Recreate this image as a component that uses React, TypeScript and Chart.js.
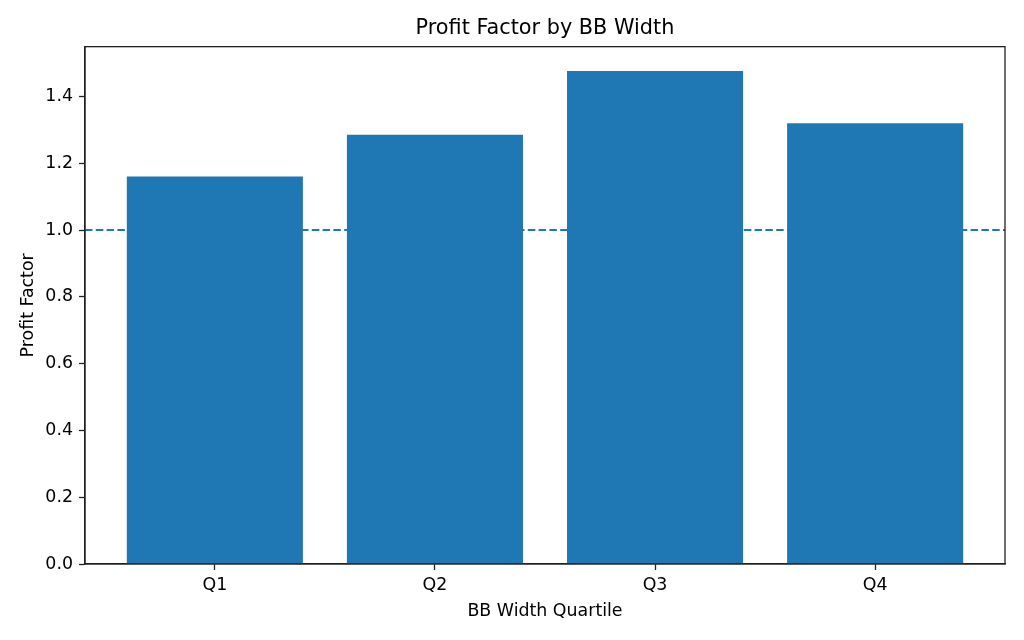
import React, { useEffect, useRef } from "react";
import { Chart, registerables } from "chart.js";

Chart.register(...registerables);

const categories = ["Q1", "Q2", "Q3", "Q4"];
const profitFactor = [1.16, 1.285, 1.476, 1.32];
const breakEven = 1.0;
const yTicks = [0, 0.2, 0.4, 0.6, 0.8, 1.0, 1.2, 1.4];

const BLUE = "#1f77b4";
const FONT = "'DejaVu Sans', sans-serif";

export default function App() {
  const ref = useRef<HTMLCanvasElement | null>(null);

  useEffect(() => {
    document.body.style.margin = "0";
    const canvas = ref.current;
    if (!canvas) return;

    const refLine = {
      id: "refLine",
      beforeDatasetsDraw(chart: any) {
        const { ctx, chartArea, scales } = chart;
        const y = scales.y.getPixelForValue(breakEven);
        ctx.save();
        ctx.strokeStyle = BLUE;
        ctx.lineWidth = 2;
        ctx.setLineDash([7.5, 3.3]);
        ctx.beginPath();
        ctx.moveTo(chartArea.left, y);
        ctx.lineTo(chartArea.right, y);
        ctx.stroke();
        ctx.restore();
      },
    };

    const frame = {
      id: "frame",
      afterDraw(chart: any) {
        const { ctx, chartArea } = chart;
        ctx.save();
        ctx.strokeStyle = "#222";
        ctx.lineWidth = 1.3;
        ctx.strokeRect(
          chartArea.left,
          chartArea.top,
          chartArea.right - chartArea.left,
          chartArea.bottom - chartArea.top
        );
        ctx.restore();
      },
    };

    const chart = new Chart(canvas, {
      type: "bar",
      data: {
        datasets: [
          {
            data: profitFactor.map((v, i) => ({ x: i, y: v })),
            backgroundColor: BLUE,
            borderWidth: 0,
            categoryPercentage: 1,
            barPercentage: 0.8,
          },
        ],
      },
      options: {
        animation: false,
        responsive: false,
        maintainAspectRatio: false,
        layout: { padding: { left: 17.6, right: 19, top: 0, bottom: 18 } },
        plugins: {
          legend: { display: false },
          tooltip: { enabled: false },
          title: {
            display: true,
            fullSize: false,
            text: "Profit Factor by BB Width",
            color: "#000",
            font: { family: FONT, size: 20.8, weight: "normal" },
            padding: { top: 16.5, bottom: 5.2 },
          },
        },
        scales: {
          x: {
            type: "linear",
            min: -0.59,
            max: 3.59,
            offset: false,
            afterBuildTicks(scale: any) {
              scale.ticks = categories.map((_, i) => ({ value: i }));
            },
            afterFit(scale: any) {
              scale.height = 58;
            },
            ticks: {
              color: "#000",
              font: { family: FONT, size: 17.4 },
              padding: 5,
              callback: (v: any) => categories[Number(v)] ?? "",
              maxRotation: 0,
            },
            grid: {
              offset: false,
              drawOnChartArea: false,
              drawTicks: true,
              tickLength: 6,
              tickWidth: 1.3,
              color: "#222",
            },
            border: { display: true, color: "#222", width: 1.3 },
            title: {
              display: true,
              text: "BB Width Quartile",
              color: "#000",
              font: { family: FONT, size: 17.4 },
              padding: { top: 0, bottom: 0 },
            },
          },
          y: {
            type: "linear",
            min: 0,
            max: 1.549,
            afterBuildTicks(scale: any) {
              scale.ticks = yTicks.map((v) => ({ value: v }));
            },
            afterFit(scale: any) {
              scale.width = 85 - 17.6;
            },
            ticks: {
              color: "#000",
              font: { family: FONT, size: 17.4 },
              padding: 6,
              callback: (v: any) => Number(v).toFixed(1),
            },
            grid: {
              offset: false,
              drawOnChartArea: false,
              drawTicks: true,
              tickLength: 6,
              tickWidth: 1.3,
              color: "#222",
            },
            border: { display: true, color: "#222", width: 1.3 },
            title: {
              display: true,
              text: "Profit Factor",
              color: "#000",
              font: { family: FONT, size: 17.4 },
              padding: { top: 0, bottom: 0 },
            },
          },
        },
      },
      plugins: [refLine, frame],
    } as any);

    return () => chart.destroy();
  }, []);

  return (
    <div style={{ width: 1024, height: 640, background: "#fff" }}>
      <canvas ref={ref} width={1024} height={640} style={{ display: "block" }} />
    </div>
  );
}
